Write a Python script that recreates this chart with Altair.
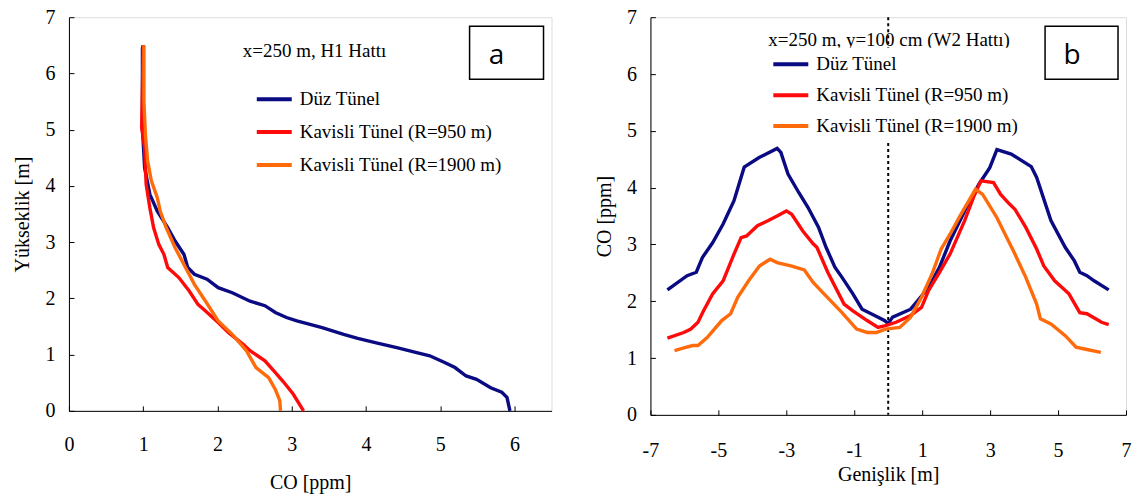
import altair as alt
import pandas as pd

# ---------------- Panel a data (CO [ppm] vs height [m]) ----------------
a_duz_co = [1.00, 0.99, 0.99, 1.02, 1.09, 1.19, 1.33, 1.43, 1.55, 1.60, 1.69, 1.86, 2.01, 2.20, 2.44,
            2.64, 2.78, 2.93, 3.07, 3.41, 3.70, 3.89, 4.14, 4.43, 4.67, 4.86, 5.06, 5.20, 5.35, 5.49,
            5.68, 5.83, 5.90, 5.94]
a_duz_h = [6.50, 6.45, 5.03, 4.32, 3.85, 3.55, 3.26, 3.02, 2.78, 2.55, 2.43, 2.34, 2.19, 2.10, 1.95,
           1.87, 1.75, 1.66, 1.60, 1.48, 1.36, 1.29, 1.21, 1.12, 1.04, 0.98, 0.86, 0.77, 0.62, 0.56,
           0.41, 0.33, 0.24, 0.00]

a_r950_co = [1.00, 1.00, 0.98, 1.02, 1.04, 1.09, 1.14, 1.21, 1.28, 1.33, 1.48, 1.62, 1.74, 1.81, 2.01,
             2.15, 2.35, 2.44, 2.64, 2.76, 2.88, 3.02, 3.16]
a_r950_h = [6.50, 6.45, 5.03, 4.68, 4.03, 3.61, 3.26, 2.96, 2.78, 2.55, 2.37, 2.13, 1.89, 1.81, 1.57,
            1.39, 1.18, 1.07, 0.89, 0.71, 0.53, 0.30, 0.00]

a_r1900_co = [1.01, 1.01, 1.03, 1.06, 1.11, 1.19, 1.23, 1.31, 1.43, 1.57, 1.69, 1.84, 2.01, 2.20, 2.39,
              2.52, 2.69, 2.78, 2.84, 2.85]
a_r1900_h = [6.50, 5.50, 4.91, 4.44, 4.09, 3.79, 3.55, 3.26, 2.90, 2.55, 2.25, 1.95, 1.60, 1.36, 1.07,
             0.77, 0.59, 0.38, 0.18, 0.00]

# ---------------- Panel b data (CO [ppm] vs width [m]) ----------------
b_duz_x = [-6.50, -5.92, -5.65, -5.47, -5.17, -4.86, -4.54, -4.24, -3.80, -3.27, -3.16, -2.95, -2.63,
           -2.36, -2.05, -1.83, -1.57, -1.36, -1.04, -0.77, -0.40, -0.11, 0.00, 0.13, 0.66, 1.19, 1.51,
           1.82, 2.25, 2.67, 2.99, 3.20, 3.62, 4.21, 4.37, 4.79, 5.21, 5.48, 5.64, 5.85, 6.06, 6.49]
b_duz_co = [2.20, 2.45, 2.51, 2.77, 3.03, 3.36, 3.77, 4.36, 4.53, 4.69, 4.62, 4.24, 3.91,
            3.65, 3.30, 2.95, 2.60, 2.42, 2.13, 1.86, 1.75, 1.66, 1.61, 1.72, 1.86, 2.24, 2.60,
            3.06, 3.59, 4.06, 4.35, 4.67, 4.59, 4.37, 4.18, 3.42, 2.95, 2.71, 2.51, 2.45, 2.36, 2.20]

b_r950_x = [-6.50, -6.02, -5.81, -5.60, -5.44, -5.17, -4.86, -4.54, -4.33, -4.17, -3.85, -3.53, -3.27,
            -3.00, -2.84, -2.52, -2.21, -2.10, -1.78, -1.30, -1.04, -0.62, -0.30, -0.08, 0.23, 0.66,
            0.98, 1.19, 1.51, 1.82, 2.25, 2.51, 2.73, 3.10, 3.31, 3.57, 3.73, 4.05, 4.37, 4.58, 4.90,
            5.32, 5.64, 5.85, 6.28, 6.49]
b_r950_co = [1.35, 1.45, 1.51, 1.63, 1.83, 2.13, 2.36, 2.83, 3.12, 3.15, 3.33, 3.42, 3.50,
             3.59, 3.53, 3.24, 3.01, 2.95, 2.51, 1.95, 1.83, 1.66, 1.54, 1.57, 1.63, 1.75,
             1.89, 2.19, 2.51, 2.83, 3.42, 3.83, 4.12, 4.09, 3.88, 3.71, 3.62, 3.30, 2.92, 2.62, 2.36,
             2.13, 1.80, 1.78, 1.63, 1.59]

b_r1900_x = [-6.29, -6.02, -5.75, -5.60, -5.33, -4.90, -4.64, -4.43, -4.11, -3.79, -3.48, -3.27, -2.84,
             -2.47, -2.21, -1.89, -1.36, -0.93, -0.62, -0.35, -0.08, 0.34, 0.66, 0.98, 1.29, 1.56,
             1.82, 2.14, 2.57, 2.78, 3.20, 3.73, 4.05, 4.37, 4.48, 4.79, 5.22, 5.53, 5.85, 6.26]
b_r1900_co = [1.13, 1.18, 1.22, 1.22, 1.36, 1.66, 1.78, 2.07, 2.36, 2.62, 2.74, 2.68, 2.62,
              2.55, 2.33, 2.13, 1.80, 1.51, 1.45, 1.45, 1.51, 1.54, 1.72, 2.07, 2.48, 2.92,
              3.18, 3.53, 3.97, 3.88, 3.47, 2.83, 2.42, 1.95, 1.69, 1.60, 1.39, 1.19, 1.15, 1.10]

series_names = ["Düz Tünel", "Kavisli Tünel (R=950 m)", "Kavisli Tünel (R=1900 m)"]
series_colors = ["#0A0A82", "#FF0A0A", "#FF6A0A"]

a_title = "x=250 m, H1 Hattı"
b_title = "x=250 m, y=100 cm (W2 Hattı)"
a_xticks = [0, 1, 2, 3, 4, 5, 6]
b_xticks = [-7, -5, -3, -1, 1, 3, 5, 7]
yticks = [0, 1, 2, 3, 4, 5, 6, 7]


def frame(xs, ys, name):
    return pd.DataFrame({"x": xs, "y": ys, "s": name, "i": range(len(xs))})


df_a = pd.concat([
    frame(a_duz_co, a_duz_h, series_names[0]),
    frame(a_r950_co, a_r950_h, series_names[1]),
    frame(a_r1900_co, a_r1900_h, series_names[2]),
])
df_b = pd.concat([
    frame(b_duz_x, b_duz_co, series_names[0]),
    frame(b_r950_x, b_r950_co, series_names[1]),
    frame(b_r1900_x, b_r1900_co, series_names[2]),
])

SERIF = "Liberation Serif"
TICK = {"expr": "-5"}
HYPHEN = "datum.value < 0 ? '-' + abs(datum.value) : '' + datum.value"


def axis(title, values, label_pad, title_pad):
    return alt.Axis(title=title, values=values, grid=False, tickSize=TICK, tickColor="black",
                    tickWidth=1, domainColor="black", labelColor="black", titleColor="black",
                    labelFont=SERIF, labelFontSize=20, titleFont=SERIF, titleFontSize=20,
                    titleFontWeight="normal", labelPadding=label_pad, titlePadding=title_pad,
                    labelFlush=False, labelExpr=HYPHEN)


def legend(lx, ly, rowpad):
    return alt.Legend(title=None, orient="none", legendX=lx, legendY=ly, symbolType="stroke",
                      symbolSize=1225, symbolStrokeWidth=4, clipHeight=21, rowPadding=rowpad,
                      labelFont=SERIF, labelFontSize=19, labelColor="black", labelOffset=6,
                      fillColor="white", padding=6, labelLimit=400)


color_scale = alt.Scale(domain=series_names, range=series_colors)


def panel(df, xdom, xvals, xtitle, ytitle, w, h, xlp, xtp, ylp, ytp, lx, ly, rowpad,
          note, nx, ny, letter, bx, bx2, lcx):
    base = alt.Chart(df)
    lines = base.mark_line(strokeWidth=3.4).encode(
        x=alt.X("x:Q", scale=alt.Scale(domain=xdom, nice=False, zero=False),
                axis=axis(xtitle, xvals, xlp, xtp)),
        y=alt.Y("y:Q", scale=alt.Scale(domain=[0, 7], nice=False),
                axis=axis(ytitle, yticks, ylp, ytp)),
        color=alt.Color("s:N", scale=color_scale, sort=series_names, legend=legend(lx, ly, rowpad)),
        order="i:Q",
    )
    txt = alt.Chart(pd.DataFrame({"t": [note]})).mark_text(
        font=SERIF, fontSize=19, align="left", baseline="middle", color="black"
    ).encode(x=alt.value(nx), y=alt.value(ny), text="t:N")
    box = alt.Chart(pd.DataFrame({"t": [letter]})).mark_rect(
        fill="white", stroke="black", strokeWidth=1.5
    ).encode(x=alt.value(bx), x2=alt.value(bx2), y=alt.value(9), y2=alt.value(62))
    let = alt.Chart(pd.DataFrame({"t": [letter]})).mark_text(
        font="Open Sans", fontSize=28, align="center", baseline="alphabetic", color="black"
    ).encode(x=alt.value(lcx), y=alt.value(47), text="t:N")
    return lines, txt, box, let, w, h


la, ta, boxa, leta, wa, ha = panel(df_a, [0, 6.5], a_xticks, "CO [ppm]", "Yükseklik [m]", 483, 394,
                                   29, 18, 19, 12, 180, 65.5, 12, a_title, 174, 34, "a", 401, 475, 428)
chart_a = alt.layer(la, ta, boxa, leta).properties(width=wa, height=ha)

lb, tb, boxb, letb, wb, hb = panel(df_b, [-7, 7], b_xticks, "Genişlik [m]", "CO [ppm]", 476, 398,
                                   31, 4, 19, 12, 115, 30.5, 10, b_title, 118, 23, "b", 395, 468, 422)
dotted = alt.Chart(pd.DataFrame({"x0": [0]})).mark_rule(
    color="black", strokeWidth=2, strokeDash=[3, 3]
).encode(x="x0:Q")
chart_b = alt.layer(dotted, lb, tb, boxb, letb).properties(width=wb, height=hb)

chart = alt.hconcat(chart_a, chart_b, spacing=41).resolve_legend(color="independent").properties(
    padding={"left": 12, "top": 6, "right": 0, "bottom": 0}
).configure_axis(
    labelFont=SERIF, titleFont=SERIF, labelFontSize=20, titleFontSize=20
).configure_view(stroke="black", strokeWidth=1.5).configure(background="white")

chart.save("out.html", embed_options={"renderer": "svg", "actions": False})
